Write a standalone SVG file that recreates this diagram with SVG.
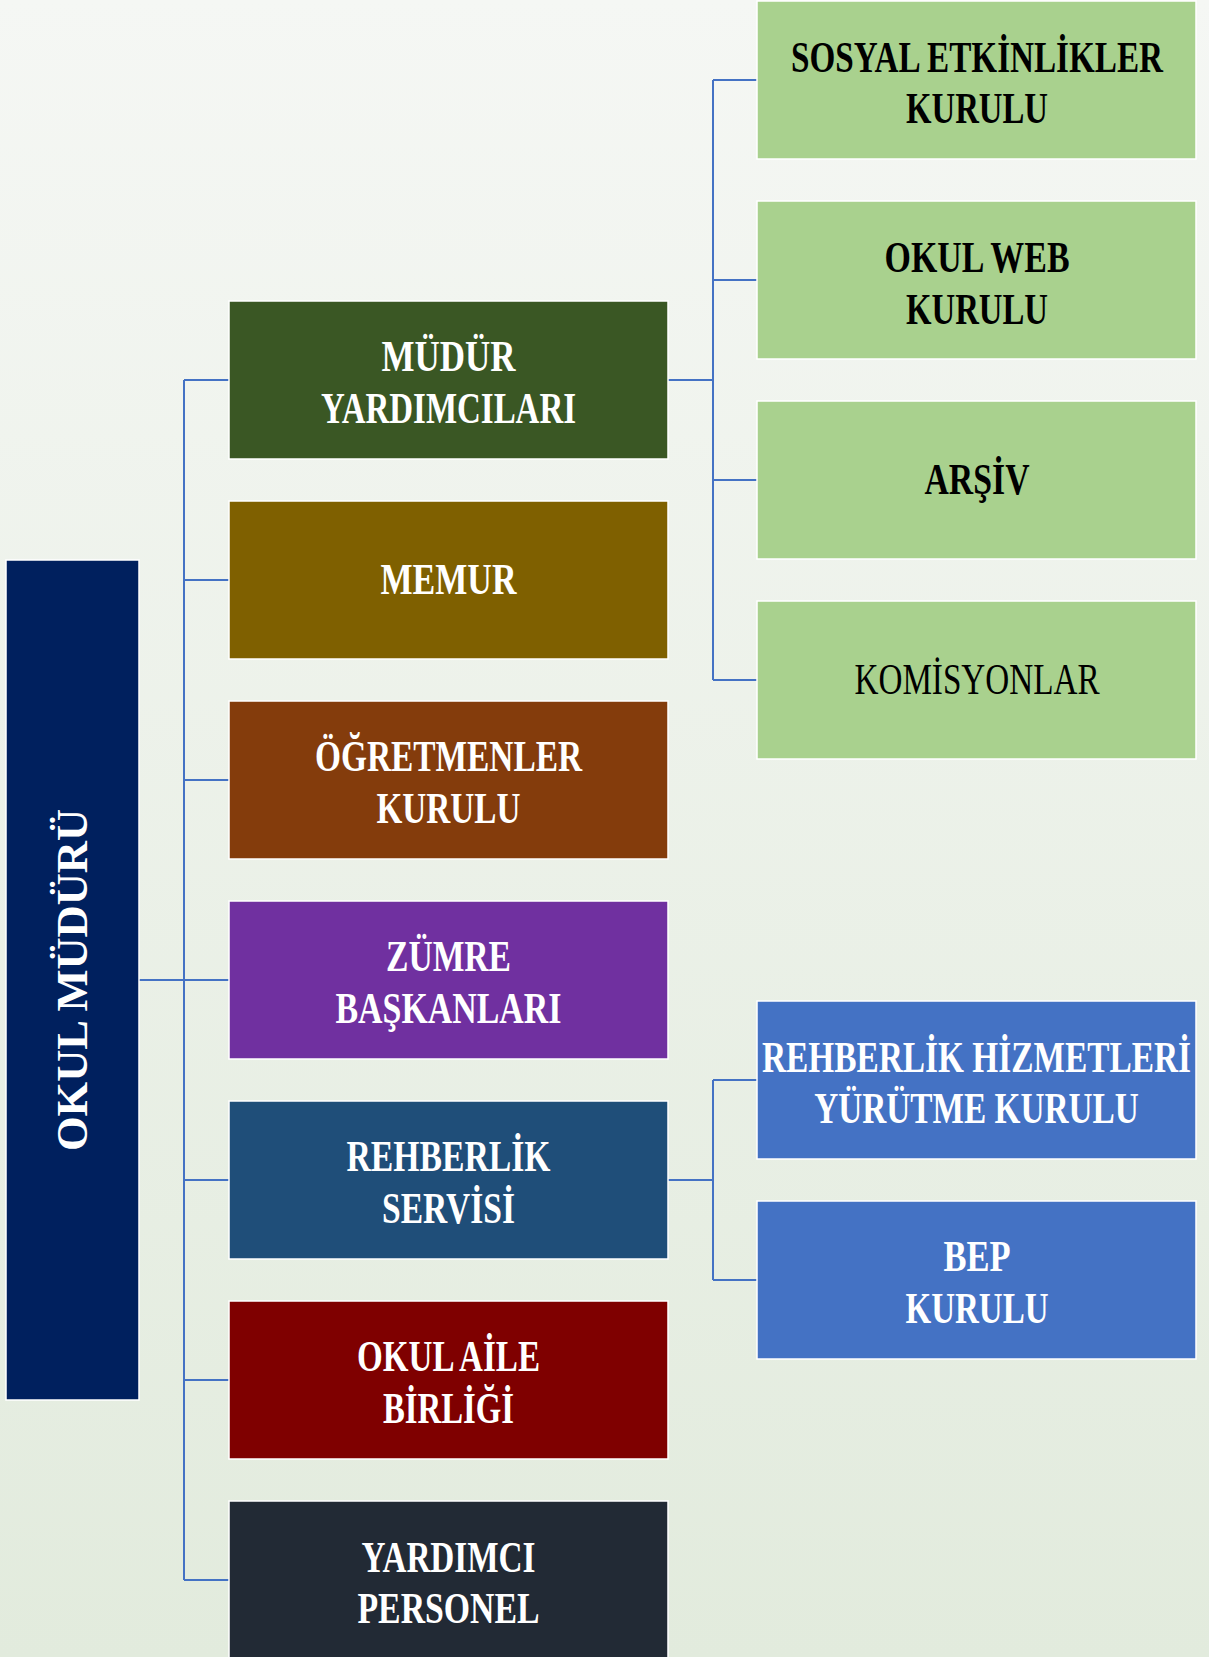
<svg xmlns="http://www.w3.org/2000/svg" width="1209" height="1657" viewBox="0 0 1209 1657">
  <defs>
    <linearGradient id="bg" x1="0" y1="0" x2="0" y2="1">
      <stop offset="0" stop-color="#f5f7f4"/>
      <stop offset="1" stop-color="#e2ebdd"/>
    </linearGradient>
    <style>
      .box { stroke: #ffffff; stroke-width: 1.5; }
      .t { font-family: "Liberation Serif", "DejaVu Serif", serif; font-size: 44px; font-weight: bold; text-anchor: middle; }
      .w { fill: #ffffff; }
      .k { fill: #000000; }
      .reg { font-weight: normal; }
      .conn { fill: none; stroke: #4472c4; stroke-width: 2; }
    </style>
  </defs>
  <rect x="0" y="0" width="1209" height="1657" fill="url(#bg)"/>

  <g id="connectors">
    <path class="conn" d="M139 980 H184 M184 380 V1580 M184 380 H229 M184 580 H229 M184 780 H229 M184 980 H229 M184 1180 H229 M184 1380 H229 M184 1580 H229"/>
    <path class="conn" d="M668 380 H713 M713 80 V680 M713 80 H757 M713 280 H757 M713 480 H757 M713 680 H757"/>
    <path class="conn" d="M668 1180 H713 M713 1080 V1280 M713 1080 H757 M713 1280 H757"/>
  </g>

  <g id="okul-muduru">
    <rect class="box" x="6" y="560" width="133" height="840" fill="#00205e"/>
    <text class="t w" transform="translate(87 980) rotate(-90)" x="0" y="0" textLength="342" lengthAdjust="spacingAndGlyphs">OKUL MÜDÜRÜ</text>
  </g>

  <g id="mudur-yardimcilari">
    <rect class="box" x="229" y="301" width="439" height="158" fill="#3a5724"/>
    <text class="t w" x="448.5" y="371" textLength="134" lengthAdjust="spacingAndGlyphs">MÜDÜR</text>
    <text class="t w" x="448.5" y="423" textLength="255" lengthAdjust="spacingAndGlyphs">YARDIMCILARI</text>
  </g>

  <g id="memur">
    <rect class="box" x="229" y="501" width="439" height="158" fill="#7f6000"/>
    <text class="t w" x="448.5" y="594" textLength="136" lengthAdjust="spacingAndGlyphs">MEMUR</text>
  </g>

  <g id="ogretmenler-kurulu">
    <rect class="box" x="229" y="701" width="439" height="158" fill="#843c0c"/>
    <text class="t w" x="448.5" y="771" textLength="267" lengthAdjust="spacingAndGlyphs">ÖĞRETMENLER</text>
    <text class="t w" x="448.5" y="823" textLength="144" lengthAdjust="spacingAndGlyphs">KURULU</text>
  </g>

  <g id="zumre-baskanlari">
    <rect class="box" x="229" y="901" width="439" height="158" fill="#7030a0"/>
    <text class="t w" x="448.5" y="971" textLength="125" lengthAdjust="spacingAndGlyphs">ZÜMRE</text>
    <text class="t w" x="448.5" y="1023" textLength="226" lengthAdjust="spacingAndGlyphs">BAŞKANLARI</text>
  </g>

  <g id="rehberlik-servisi">
    <rect class="box" x="229" y="1101" width="439" height="158" fill="#1f4e79"/>
    <text class="t w" x="448.5" y="1171" textLength="204" lengthAdjust="spacingAndGlyphs">REHBERLİK</text>
    <text class="t w" x="448.5" y="1223" textLength="133" lengthAdjust="spacingAndGlyphs">SERVİSİ</text>
  </g>

  <g id="okul-aile-birligi">
    <rect class="box" x="229" y="1301" width="439" height="158" fill="#7f0000"/>
    <text class="t w" x="448.5" y="1371" textLength="183" lengthAdjust="spacingAndGlyphs">OKUL AİLE</text>
    <text class="t w" x="448.5" y="1423" textLength="131" lengthAdjust="spacingAndGlyphs">BİRLİĞİ</text>
  </g>

  <g id="yardimci-personel">
    <rect class="box" x="229" y="1501" width="439" height="158" fill="#222a35"/>
    <text class="t w" x="448.5" y="1572" textLength="174" lengthAdjust="spacingAndGlyphs">YARDIMCI</text>
    <text class="t w" x="448.5" y="1623" textLength="182" lengthAdjust="spacingAndGlyphs">PERSONEL</text>
  </g>

  <g id="sosyal-etkinlikler-kurulu">
    <rect class="box" x="757" y="1" width="439" height="158" fill="#a9d18e"/>
    <text class="t k" transform="translate(977 72) scale(0.75 1)" x="0" y="0" textLength="496" lengthAdjust="spacingAndGlyphs">SOSYAL ETKİNLİKLER</text>
    <text class="t k" x="977" y="123" textLength="142" lengthAdjust="spacingAndGlyphs">KURULU</text>
  </g>

  <g id="okul-web-kurulu">
    <rect class="box" x="757" y="201" width="439" height="158" fill="#a9d18e"/>
    <text class="t k" x="977" y="272" textLength="185" lengthAdjust="spacingAndGlyphs">OKUL WEB</text>
    <text class="t k" x="977" y="324" textLength="142" lengthAdjust="spacingAndGlyphs">KURULU</text>
  </g>

  <g id="arsiv">
    <rect class="box" x="757" y="401" width="439" height="158" fill="#a9d18e"/>
    <text class="t k" x="977" y="494" textLength="105" lengthAdjust="spacingAndGlyphs">ARŞİV</text>
  </g>

  <g id="komisyonlar">
    <rect class="box" x="757" y="601" width="439" height="158" fill="#a9d18e"/>
    <text class="t k reg" x="977" y="694" textLength="245" lengthAdjust="spacingAndGlyphs">KOMİSYONLAR</text>
  </g>

  <g id="rehberlik-hizmetleri-yurutme-kurulu">
    <rect class="box" x="757" y="1001" width="439" height="158" fill="#4472c4"/>
    <text class="t w" transform="translate(976.5 1072) scale(0.75 1)" x="0" y="0" textLength="572" lengthAdjust="spacingAndGlyphs">REHBERLİK HİZMETLERİ</text>
    <text class="t w" transform="translate(976.5 1123) scale(0.75 1)" x="0" y="0" textLength="433" lengthAdjust="spacingAndGlyphs">YÜRÜTME KURULU</text>
  </g>

  <g id="bep-kurulu">
    <rect class="box" x="757" y="1201" width="439" height="158" fill="#4472c4"/>
    <text class="t w" x="977" y="1271" textLength="67" lengthAdjust="spacingAndGlyphs">BEP</text>
    <text class="t w" x="977" y="1323" textLength="143" lengthAdjust="spacingAndGlyphs">KURULU</text>
  </g>
</svg>
